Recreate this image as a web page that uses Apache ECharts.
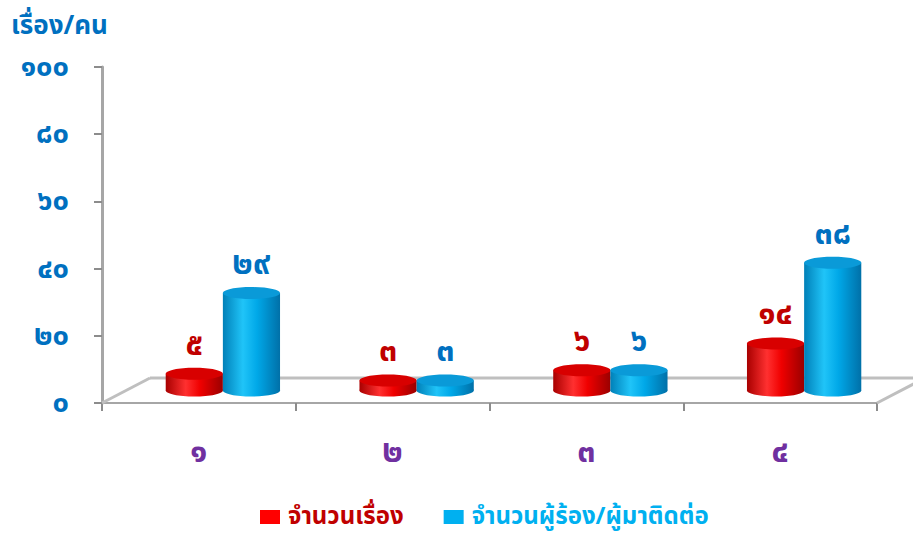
<!DOCTYPE html>
<html><head><meta charset="utf-8">
<script src="https://cdn.jsdelivr.net/npm/echarts@6/dist/echarts.min.js"></script>
<style>html,body{margin:0;padding:0;background:#fff}#c{width:913px;height:534px}</style>
</head><body><div id="c"></div>
<script>
const categories = ['๑', '๒', '๓', '๔'];
const seriesNames = ['จำนวนเรื่อง', 'จำนวนผู้ร้อง/ผู้มาติดต่อ'];
const cases = [5, 3, 6, 14];
const people = [29, 3, 6, 38];
const yTicks = [0, 20, 40, 60, 80, 100];

const FONT = '"Noto Sans Thai", "Noto Sans", "DejaVu Sans", sans-serif';
const thaiDigits = '๐๑๒๓๔๕๖๗๘๙';
const toThai = n => String(n).replace(/[0-9]/g, d => thaiDigits[+d]);

const DEPTH_X = 48, DEPTH_Y = 25;
const palettes = [
  {body: ['#A80000', '#FF3030', '#F00000', '#9A0000'], top: '#D80000', label: '#C00000', legend: '#FF0000', text: '#C00000'},
  {body: ['#0080B8', '#20C4F8', '#00A8E8', '#0070A8'], top: '#0A9AD8', label: '#0070C0', legend: '#00B0F0', text: '#00B0F0'}
];

function cylinder(params, api) {
  const si = params.seriesIndex - 1;
  const cat = api.value(0), val = api.value(1);
  const base = api.coord([cat, 0]);
  const top = api.coord([cat, val]);
  const band = api.size([1, 0])[0];
  const w = band * 0.295;
  const cx = base[0] + DEPTH_X / 2 + (si === 0 ? -w / 2 : w / 2);
  const by = base[1] - DEPTH_Y / 2;
  const ty = top[1] - DEPTH_Y / 2;
  const ry = 6;
  const p = palettes[si];
  const grad = new echarts.graphic.LinearGradient(0, 0, 1, 0, [
    {offset: 0, color: p.body[0]}, {offset: 0.35, color: p.body[1]},
    {offset: 0.6, color: p.body[2]}, {offset: 1, color: p.body[3]}]);
  return {
    type: 'group',
    children: [
      {type: 'ellipse', shape: {cx: cx, cy: by, rx: w / 2, ry: ry}, style: {fill: grad}},
      {type: 'rect', shape: {x: cx - w / 2, y: ty, width: w, height: by - ty}, style: {fill: grad}},
      {type: 'ellipse', shape: {cx: cx, cy: ty, rx: w / 2, ry: ry}, style: {fill: p.top}},
      {type: 'text', x: cx, y: ty - 29, style: {text: toThai(val), fill: p.label, font: 'bold 32px ' + FONT, align: 'center', verticalAlign: 'middle'}}
    ]
  };
}

function floor(params, api) {
  const cs = params.coordSys;
  const x0 = cs.x, y0 = cs.y + cs.height, x1 = cs.x + cs.width;
  const st = {stroke: '#BFBFBF', lineWidth: 3};
  return {
    type: 'group',
    children: [
      {type: 'line', shape: {x1: x0 + DEPTH_X, y1: y0 - DEPTH_Y, x2: x1 + DEPTH_X, y2: y0 - DEPTH_Y}, style: st},
      {type: 'line', shape: {x1: x0, y1: y0, x2: x0 + DEPTH_X, y2: y0 - DEPTH_Y}, style: st},
      {type: 'line', shape: {x1: x1, y1: y0, x2: x1 + DEPTH_X, y2: y0 - DEPTH_Y}, style: st}
    ]
  };
}

const chart = echarts.init(document.getElementById('c'), null, {renderer: 'svg'});
chart.setOption({
  animation: false,
  backgroundColor: '#fff',
  title: {text: 'เรื่อง/คน', left: 6, top: 8, textStyle: {color: '#0070C0', fontSize: 26, fontWeight: 'bold', fontFamily: FONT}},
  grid: {left: 102, right: 36, top: 67, bottom: 131},
  legend: {
    bottom: 0, left: 255, itemWidth: 20, itemHeight: 14, itemGap: 40, icon: 'rect',
    textStyle: {fontSize: 24, fontWeight: 'bold', fontFamily: FONT, padding: [0, 0, 0, 3]},
    data: seriesNames.map((n, i) => ({name: n, itemStyle: {color: palettes[i].legend}, textStyle: {color: palettes[i].text}}))
  },
  xAxis: {
    type: 'category', data: categories, boundaryGap: true,
    axisLine: {lineStyle: {color: '#A6A6A6', width: 2}},
    axisTick: {show: true, length: 8, lineStyle: {color: '#8C8C8C', width: 2}},
    axisLabel: {color: '#7030A0', fontSize: 32, fontWeight: 'bold', fontFamily: FONT, margin: 33}
  },
  yAxis: {
    type: 'value', min: 0, max: 100, interval: 20,
    axisLine: {show: true, lineStyle: {color: '#A6A6A6', width: 3}},
    axisTick: {show: true, length: 8, lineStyle: {color: '#8C8C8C', width: 2}},
    splitLine: {show: false},
    axisLabel: {color: '#0070C0', fontSize: 29, fontWeight: 'bold', fontFamily: FONT, margin: 33,
      formatter: v => yTicks.includes(v) ? toThai(v) : ''}
  },
  series: [
    {type: 'custom', name: '_floor', silent: true, z: 1, renderItem: floor, data: [[0, 0]], encode: {x: 0, y: 1}, legendHoverLink: false},
    {type: 'custom', name: seriesNames[0], z: 3, itemStyle: {color: palettes[0].legend}, renderItem: cylinder,
      data: cases.map((v, i) => [i, v]), encode: {x: 0, y: 1}},
    {type: 'custom', name: seriesNames[1], z: 3, itemStyle: {color: palettes[1].legend}, renderItem: cylinder,
      data: people.map((v, i) => [i, v]), encode: {x: 0, y: 1}}
  ]
});
</script></body></html>
